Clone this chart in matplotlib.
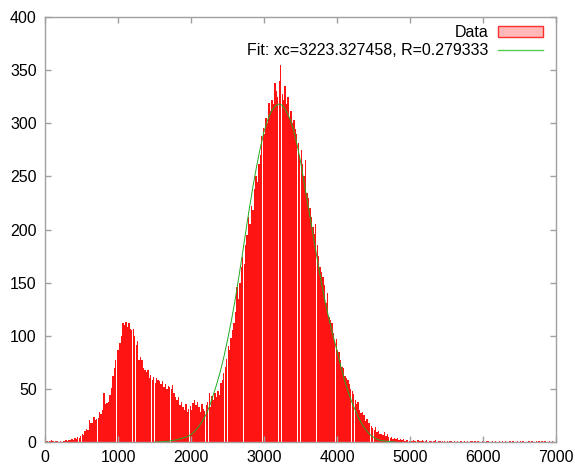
#!/usr/bin/env python3
"""Histogram with fitted peak, gnuplot-like look."""

import matplotlib
matplotlib.use('Agg')
import matplotlib.pyplot as plt
from matplotlib.patches import Patch
import numpy as np

# histogram: 20-unit bins starting at 0
bin_start = 0
bin_width = 20
counts = [
    0, 1, 0, 1, 2, 1, 0, 1, 1, 0,                      # 0-180
    1, 0, 1, 1, 2, 1, 2, 2, 3, 2,                      # 200-380
    4, 3, 5, 4, 6, 8, 7, 10, 12, 11,                   # 400-580
    21, 18, 18, 24, 21, 22, 23, 28, 26, 30,            # 600-780
    46, 36, 37, 38, 44, 51, 62, 70, 77, 87,            # 800-980
    87, 93, 100, 112, 110, 113, 108, 112, 106, 105,    # 1000-1180
    106, 100, 91, 95, 77, 80, 77, 70, 68, 66,          # 1200-1380
    68, 60, 63, 58, 61, 56, 60, 58, 57, 55,            # 1400-1580
    57, 52, 55, 50, 53, 52, 50, 54, 46, 42,            # 1600-1780
    40, 42, 35, 38, 33, 30, 36, 28, 31, 34,            # 1800-1980
    30, 37, 40, 35, 38, 33, 28, 36, 31, 29,            # 2000-2180
    35, 38, 46, 33, 43, 40, 46, 42, 48, 44,            # 2200-2380
    56, 58, 65, 71, 78, 90, 87, 98, 105, 112,          # 2400-2580
    122, 146, 135, 150, 165, 174, 168, 185, 195, 212,  # 2600-2780
    205, 222, 218, 238, 250, 245, 262, 270, 288, 296,  # 2800-2980
    290, 305, 300, 319, 312, 322, 318, 338, 330, 325,  # 3000-3180
    340, 355, 328, 322, 335, 318, 325, 305, 312, 300,  # 3200-3380
    303, 295, 290, 281, 270, 275, 262, 250, 265, 234,  # 3400-3580
    230, 220, 212, 202, 196, 205, 185, 175, 165, 160,  # 3600-3780
    155, 148, 131, 140, 118, 115, 112, 103, 95, 97,    # 3800-3980
    87, 85, 77, 71, 70, 62, 60, 58, 55, 50,            # 4000-4180
    48, 45, 40, 36, 38, 30, 27, 28, 25, 20,            # 4200-4380
    22, 18, 18, 15, 13, 11, 14, 9, 10, 8,              # 4400-4580
    8, 7, 9, 6, 8, 5, 4, 5, 3, 4,                      # 4600-4780
    3, 4, 2, 3, 2, 3, 1, 2, 2, 1,                      # 4800-4980
    2, 1, 2, 1, 0, 2, 1, 1, 2, 1,                      # 5000-5180
    1, 2, 0, 1, 1, 0, 1, 2, 0, 1,                      # 5200-5380
    1, 0, 1, 1, 0, 1, 0, 1, 1, 0,                      # 5400-5580
    1, 0, 1, 0, 1, 1, 0, 1, 0, 1,                      # 5600-5780
    0, 1, 1, 0, 1, 0, 1, 0, 0, 1,                      # 5800-5980
    1, 0, 1, 1, 0, 0, 1, 0, 1, 0,                      # 6000-6180
    0, 1, 0, 1, 0, 1, 0, 0, 1, 0,                      # 6200-6380
    1, 0, 0, 1, 0, 1, 0, 1, 0, 0,                      # 6400-6580
    0, 1, 0, 1, 0, 0, 1, 0, 1, 0,                      # 6600-6780
    1, 0, 1, 0, 0, 1, 0, 1, 0, 0,                      # 6800-6980
]

# fitted curve
fit_x = [1500, 1550, 1600, 1650, 1700, 1750, 1800, 1850, 1900, 1950,
         2000, 2050, 2100, 2150, 2200, 2250, 2300, 2350, 2400, 2450,
         2500, 2550, 2600, 2650, 2700, 2750, 2800, 2850, 2900, 2950,
         3000, 3050, 3100, 3150, 3200, 3250, 3300, 3350, 3400, 3450,
         3500, 3550, 3600, 3650, 3700, 3750, 3800, 3850, 3900, 3950,
         4000, 4050, 4100, 4150, 4200, 4250, 4300, 4350, 4400, 4450,
         4500, 4550, 4600, 4650, 4700, 4750, 4800]
fit_y = [0, 0, 0.3, 0.5, 1, 1.5, 2, 3, 4, 5,
         7, 10, 14, 19, 25, 33, 43, 54, 66, 80,
         96, 113, 132, 153, 175, 198, 220, 241, 260, 277,
         292, 303, 311, 316, 318, 317, 312, 305, 295, 281,
         264, 244, 224, 204, 184, 164, 145, 128, 113, 99,
         86, 72, 59, 48, 38, 30, 22, 16, 11, 7,
         4.5, 2.5, 1.5, 1, 0.5, 0.2, 0]

data_label = 'Data'
fit_label = 'Fit: xc=3223.327458, R=0.279333'

plt.rcParams['font.family'] = ['Liberation Sans', 'DejaVu Sans']
plt.rcParams['font.size'] = 11.5

fig = plt.figure(figsize=(5.75, 4.72), dpi=100)
ax = fig.add_axes([45 / 575, 30 / 472, 511 / 575, 425 / 472])

edges = bin_start + bin_width * np.arange(len(counts))
ax.bar(edges, counts, width=bin_width * 0.92, align='edge',
       color='#ff1414', edgecolor='none', linewidth=0, zorder=1)
ax.plot(fit_x, fit_y, color='#22aa22', linewidth=0.7, zorder=2)

ax.set_xlim(0, 7000)
ax.set_ylim(0, 400)
ax.set_xticks(np.arange(0, 7001, 1000))
ax.set_yticks(np.arange(0, 401, 50))

for sp in ax.spines.values():
    sp.set_color('#a0a0a0')
    sp.set_linewidth(1.0)
ax.tick_params(direction='in', length=4.5, width=1.0, color='#a0a0a0',
               top=True, right=True, pad=6, labelsize=11.5)

handles = [Patch(facecolor='#ffb8b8', edgecolor='#ff3030', linewidth=1.0),
           plt.Line2D([], [], color='#55cc55', linewidth=1.0)]
ax.legend(handles, [data_label, fit_label], loc='upper right',
          bbox_to_anchor=(543 / 575, 1 - 25 / 472), bbox_transform=fig.transFigure,
          frameon=False, markerfirst=False, handlelength=2.8,
          handletextpad=0.6, labelspacing=0.2, borderpad=0, borderaxespad=0,
          fontsize=11.5)

plt.savefig('out.png', dpi=100)
plt.close()
